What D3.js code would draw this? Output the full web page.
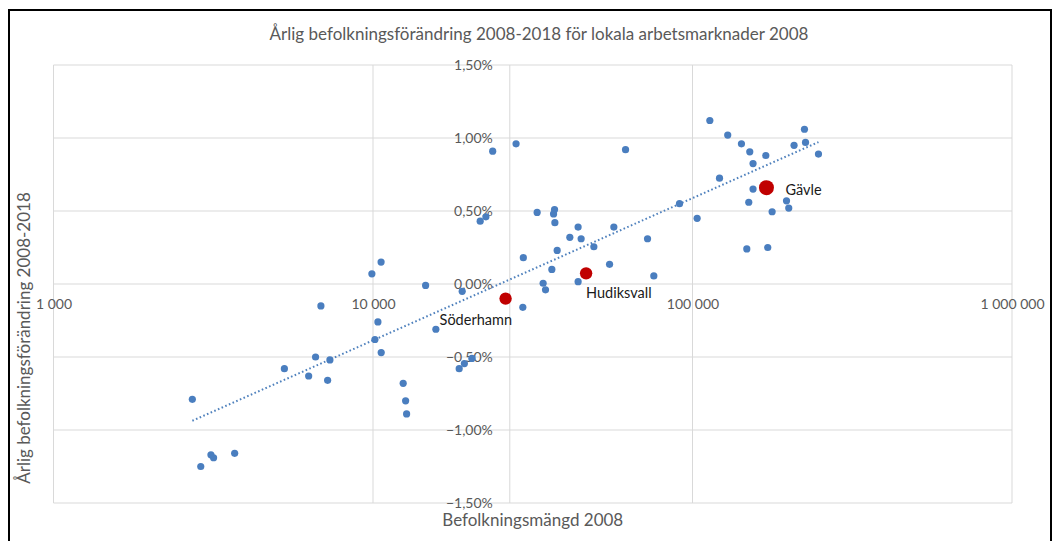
<!DOCTYPE html>
<html>
<head>
<meta charset="utf-8">
<script src="https://cdn.jsdelivr.net/npm/d3@7"></script>
<style>
  body { margin: 0; background: #fff; }
  text { font-family: Lato, "Noto Sans", sans-serif; }
</style>
</head>
<body>
<div id="chart-container"></div>
<script>
// Population 2008 for each local labour market (blue points)
const population = [
  2720, 3110, 3170, 2890, 3690, 5280, 6290, 6610, 7330, 7210,
  6870, 9920, 10600, 10360, 10140, 10610, 12430, 12650, 12740, 14610,
  15730, 18610, 19320, 20390, 19020, 21650, 22560, 23690, 28040, 29440,
  29550, 32640, 37000, 36740, 37090, 43850, 56730, 41310, 44820, 72320,
  49120, 37710, 61720, 91070, 103400, 55000, 36290, 75670, 43850, 34080,
  34670, 113300, 128900, 142300, 151100, 169600, 154700, 224100, 225800, 207900,
  247900, 121500, 154700, 150000, 196900, 200100, 177500, 147900, 172000
];
// Annual population change 2008-2018, in percent
const change = [
  -0.79, -1.17, -1.19, -1.25, -1.16, -0.58, -0.63, -0.50, -0.52, -0.66,
  -0.15, 0.07, 0.15, -0.26, -0.38, -0.47, -0.68, -0.80, -0.89, -0.01,
  -0.31, -0.58, -0.545, -0.51, -0.05, 0.43, 0.46, 0.91, 0.96, -0.16,
  0.18, 0.49, 0.51, 0.48, 0.42, 0.39, 0.39, 0.32, 0.31, 0.31,
  0.255, 0.23, 0.92, 0.55, 0.45, 0.135, 0.10, 0.055, 0.016, 0.005,
  -0.04, 1.12, 1.02, 0.96, 0.905, 0.88, 0.825, 1.06, 0.97, 0.95,
  0.89, 0.725, 0.65, 0.56, 0.57, 0.52, 0.495, 0.24, 0.25
];

// Highlighted municipalities (red points)
const highlightNames = ["Gävle", "Hudiksvall", "Söderhamn"];
const highlightPopulation = [170400, 46450, 26000];
const highlightChange = [0.66, 0.073, -0.10];

const xTicks = [1000, 10000, 100000, 1000000];
const yTicks = [-1.5, -1.0, -0.5, 0, 0.5, 1.0, 1.5];

const width = 1057;
const height = 541;
const plotLeft = 53.5, plotRight = 1012, plotTop = 65, plotBottom = 503;
const yAxisCross = 26800;

const sv = d3.formatLocale({decimal: ",", thousands: " ", grouping: [3], currency: ["", " kr"]});

const x = d3.scaleLog()
    .domain([1000, 1000000])
    .range([plotLeft, plotRight]);

const y = d3.scaleLinear()
    .domain([-1.5, 1.5])
    .range([plotBottom, plotTop]);

const svg = d3.create("svg")
    .attr("width", width)
    .attr("height", height);

// outer frame
svg.append("rect")
    .attr("x", 9).attr("y", 10)
    .attr("width", 1042).attr("height", 545)
    .attr("fill", "none")
    .attr("stroke", "#000")
    .attr("stroke-width", 2);

// gridlines
svg.append("g")
    .selectAll("line")
    .data(yTicks)
    .join("line")
    .attr("x1", plotLeft).attr("x2", plotRight)
    .attr("y1", d => y(d)).attr("y2", d => y(d))
    .attr("stroke", "#d9d9d9");

svg.append("g")
    .selectAll("line")
    .data(xTicks)
    .join("line")
    .attr("x1", d => x(d)).attr("x2", d => x(d))
    .attr("y1", plotTop).attr("y2", plotBottom)
    .attr("stroke", "#d9d9d9");

// vertical axis line
svg.append("line")
    .attr("x1", x(yAxisCross)).attr("x2", x(yAxisCross))
    .attr("y1", plotTop).attr("y2", plotBottom)
    .attr("stroke", "#d9d9d9");

// x axis labels, along the 0 line
svg.append("g")
    .attr("transform", `translate(0,${y(0)})`)
    .call(d3.axisBottom(x).tickValues(xTicks).tickSize(0).tickPadding(15).tickFormat(sv.format(",")))
    .call(g => g.select(".domain").remove())
    .call(g => g.selectAll("text")
        .attr("fill", "#595959")
        .style("font-size", "14px")
        .style("font-family", "Lato, sans-serif"));

// y axis labels
svg.append("g")
    .attr("transform", `translate(${x(yAxisCross)},0)`)
    .call(d3.axisLeft(y).tickValues(yTicks).tickSize(0).tickPadding(17).tickFormat(d => sv.format(".2f")(d) + "%"))
    .call(g => g.select(".domain").remove())
    .call(g => g.selectAll("text")
        .attr("fill", "#595959")
        .style("font-size", "14px")
        .style("font-family", "Lato, sans-serif"));

// logarithmic trendline (straight on the log axis)
const lx = population.map(p => Math.log10(p));
const mx = d3.mean(lx), my = d3.mean(change);
const slope = d3.sum(lx, (v, i) => (v - mx) * (change[i] - my)) / d3.sum(lx, v => (v - mx) ** 2);
const intercept = my - slope * mx;
const [pMin, pMax] = d3.extent(population);
svg.append("line")
    .attr("x1", x(pMin)).attr("y1", y(intercept + slope * Math.log10(pMin)))
    .attr("x2", x(pMax)).attr("y2", y(intercept + slope * Math.log10(pMax)))
    .attr("stroke", "#4f81bd")
    .attr("stroke-width", 2)
    .attr("stroke-dasharray", "1.6,2.4");

// points
svg.append("g")
    .selectAll("circle")
    .data(population)
    .join("circle")
    .attr("cx", d => x(d))
    .attr("cy", (d, i) => y(change[i]))
    .attr("r", 3.6)
    .attr("fill", "#4a7ebf");

const hlRadius = [7.5, 6.2, 6.2];
svg.append("g")
    .selectAll("circle")
    .data(highlightPopulation)
    .join("circle")
    .attr("cx", d => x(d))
    .attr("cy", (d, i) => y(highlightChange[i]))
    .attr("r", (d, i) => hlRadius[i])
    .attr("fill", "#c00000");

// data labels
const labelOffset = [[19, 2], [0, 20], [-66, 21]];
svg.append("g")
    .selectAll("text")
    .data(highlightNames)
    .join("text")
    .attr("x", (d, i) => x(highlightPopulation[i]) + labelOffset[i][0])
    .attr("y", (d, i) => y(highlightChange[i]) + labelOffset[i][1])
    .attr("dy", "0.35em")
    .attr("fill", "#1a1a1a")
    .style("font-size", "14.5px")
    .text(d => d);

// titles
svg.append("text")
    .attr("x", 539).attr("y", 34).attr("dy", "0.35em")
    .attr("text-anchor", "middle")
    .attr("fill", "#595959")
    .style("font-size", "17px")
    .text("Årlig befolkningsförändring 2008-2018 för lokala arbetsmarknader 2008");

svg.append("text")
    .attr("x", (plotLeft + plotRight) / 2).attr("y", 520).attr("dy", "0.35em")
    .attr("text-anchor", "middle")
    .attr("fill", "#595959")
    .style("font-size", "17px")
    .text("Befolkningsmängd 2008");

svg.append("text")
    .attr("transform", "translate(24,338) rotate(-90)")
    .attr("dy", "0.35em")
    .attr("text-anchor", "middle")
    .attr("fill", "#595959")
    .style("font-size", "17px")
    .text("Årlig befolkningsförändring 2008-2018");

d3.select("#chart-container").append(() => svg.node());
</script>
</body>
</html>
